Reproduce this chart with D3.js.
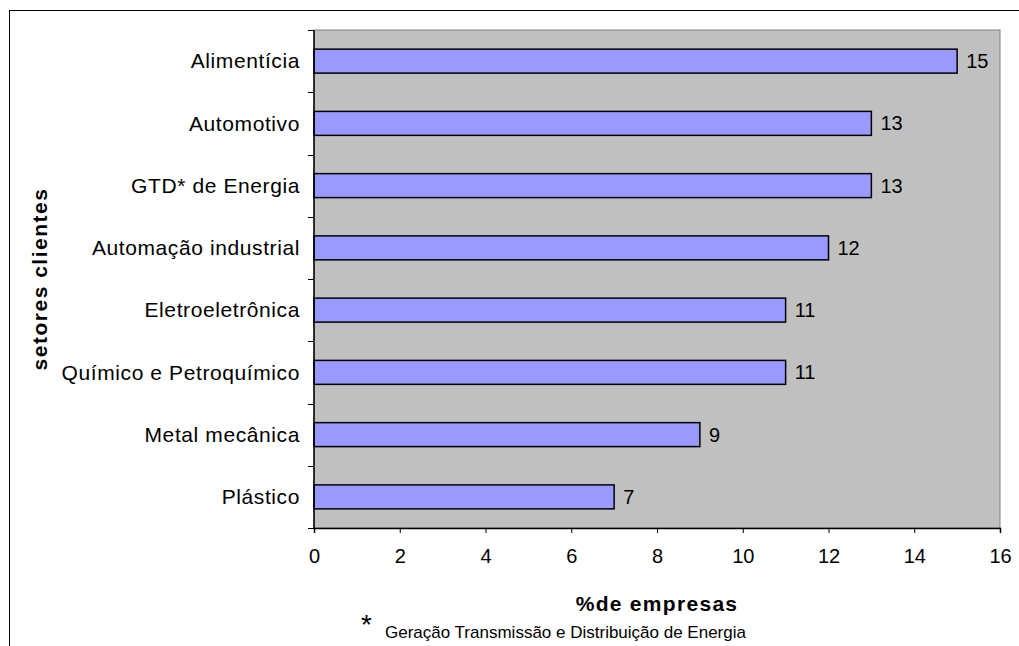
<!DOCTYPE html>
<html>
<head>
<meta charset="utf-8">
<script src="https://cdn.jsdelivr.net/npm/d3@7"></script>
<style>
  body { margin: 0; background: #fff; }
  text { font-family: "Liberation Sans", Arial, sans-serif; fill: #000; }
</style>
</head>
<body>
<div id="chart"></div>
<script>
// data
var setores = ["Alimentícia", "Automotivo", "GTD* de Energia", "Automação industrial",
               "Eletroeletrônica", "Químico e Petroquímico", "Metal mecânica", "Plástico"];
var valores = [15, 13, 13, 12, 11, 11, 9, 7];
var xTicks = [0, 2, 4, 6, 8, 10, 12, 14, 16];

var width = 1019,
    height = 646,
    margin = {top: 30, right: 19, bottom: 118, left: 314};

var svg = d3.select("#chart").append("svg")
    .attr("width", width)
    .attr("height", height);

// outer chart frame (runs off the right/bottom edge)
svg.append("rect")
    .attr("x", 9.5).attr("y", 10.5)
    .attr("width", 1030).attr("height", 660)
    .attr("fill", "none").attr("stroke", "#000");

var x = d3.scaleLinear()
    .domain([0, 16])
    .range([margin.left, width - margin.right]);

var y = d3.scaleBand()
    .domain(setores)
    .range([margin.top, height - margin.bottom])
    .paddingInner(0.615)
    .paddingOuter(0.3075);

var plotBottom = height - margin.bottom;

// plot background
svg.append("rect")
    .attr("x", x(0)).attr("y", margin.top)
    .attr("width", x(16) - x(0)).attr("height", plotBottom - margin.top)
    .attr("fill", "#c0c0c0")
    .attr("stroke", "#808080");

// bars
svg.selectAll("rect.bar")
    .data(setores)
  .enter().append("rect")
    .attr("class", "bar")
    .attr("x", x(0))
    .attr("y", d => y(d))
    .attr("width", (d, i) => x(valores[i]) - x(0))
    .attr("height", y.bandwidth())
    .attr("fill", "#9999ff")
    .attr("stroke", "#000")
    .attr("stroke-width", 1.5);

// value labels
svg.selectAll("text.val")
    .data(setores)
  .enter().append("text")
    .attr("class", "val")
    .attr("x", (d, i) => x(valores[i]) + 9)
    .attr("y", d => y(d) + y.bandwidth() / 2)
    .attr("dy", "0.35em")
    .style("font-size", "20px")
    .text((d, i) => valores[i]);

// x axis
var xAxis = svg.append("g")
    .attr("transform", "translate(0," + plotBottom + ")")
    .call(d3.axisBottom(x).tickValues(xTicks).tickSize(5).tickPadding(16));
xAxis.selectAll("text").style("font-size", "20px").attr("fill", "#000");
xAxis.select(".domain").attr("stroke", "#000").attr("stroke-width", 1.5);

// y axis: ticks sit at the band boundaries
var step = y.step();
var bounds = d3.range(setores.length + 1).map(i => margin.top + i * step);
var yAxis = svg.append("g");
yAxis.append("line")
    .attr("x1", x(0)).attr("x2", x(0))
    .attr("y1", margin.top).attr("y2", plotBottom)
    .attr("stroke", "#000").attr("stroke-width", 1.5);
yAxis.selectAll("line.tick")
    .data(bounds)
  .enter().append("line")
    .attr("class", "tick")
    .attr("x1", x(0) - 6).attr("x2", x(0))
    .attr("y1", d => Math.round(d) + 0.5).attr("y2", d => Math.round(d) + 0.5)
    .attr("stroke", "#000");
yAxis.selectAll("text")
    .data(setores)
  .enter().append("text")
    .attr("x", 300)
    .attr("y", d => y(d) + y.bandwidth() / 2)
    .attr("dy", "0.35em")
    .attr("text-anchor", "end")
    .style("font-size", "21px")
    .style("letter-spacing", "0.6px")
    .text(d => d);

// axis titles
svg.append("text")
    .attr("x", (x(0) + x(16)) / 2)
    .attr("y", 611)
    .attr("text-anchor", "middle")
    .style("font-size", "21px")
    .style("font-weight", "bold")
    .style("letter-spacing", "1.3px")
    .text("%de empresas");

svg.append("text")
    .attr("transform", "translate(47," + ((margin.top + plotBottom) / 2) + ") rotate(-90)")
    .attr("text-anchor", "middle")
    .style("font-size", "21px")
    .style("font-weight", "bold")
    .style("letter-spacing", "1.5px")
    .text("setores clientes");

// footnote
svg.append("text")
    .attr("x", 361).attr("y", 634)
    .style("font-size", "28px")
    .text("*");
svg.append("text")
    .attr("x", 385).attr("y", 638)
    .style("font-size", "17px")
    .text("Geração Transmissão e Distribuição de Energia");
</script>
</body>
</html>
